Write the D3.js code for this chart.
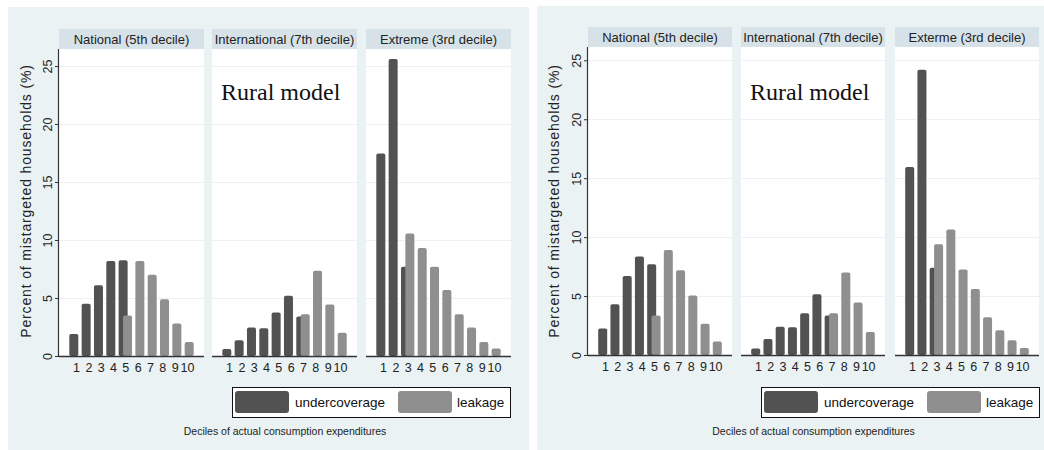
<!DOCTYPE html>
<html lang="en">
<head>
<meta charset="utf-8">
<title>Mistargeting by decile</title>
<style>
  body { margin: 0; background: #fff; }
  svg { display: block; font-family: "Liberation Sans", Arial, Helvetica, sans-serif; }
  .grid line { stroke: #eaf2f3; stroke-width: 1; }
  .strip-text { font-size: 13px; fill: #222; }
  .tick-lab { font-size: 12.5px; fill: #222; }
</style>
</head>
<body>
<svg width="1044" height="450"></svg>
<script src="https://cdn.jsdelivr.net/npm/d3@7"></script>
<script>

// ---- data ----
var deciles = [1, 2, 3, 4, 5, 6, 7, 8, 9, 10];
var yTicks = [0, 5, 10, 15, 20, 25];

var leftTitles  = ["National (5th decile)", "International (7th decile)", "Extreme (3rd decile)"];
var rightTitles = ["National (5th decile)", "International (7th decile)", "Exterme (3rd decile)"];

// left chart
var leftNationalUnder = [1.9, 4.5, 6.1, 8.2, 8.25, 0, 0, 0, 0, 0];
var leftNationalLeak  = [0, 0, 0, 0, 3.5, 8.2, 7.0, 4.9, 2.8, 1.2];
var leftInterUnder    = [0.6, 1.35, 2.45, 2.4, 3.75, 5.2, 3.4, 0, 0, 0];
var leftInterLeak     = [0, 0, 0, 0, 0, 0, 3.6, 7.35, 4.45, 2.0];
var leftExtremeUnder  = [17.45, 25.6, 7.7, 0, 0, 0, 0, 0, 0, 0];
var leftExtremeLeak   = [0, 0, 10.55, 9.3, 7.7, 5.7, 3.6, 2.45, 1.2, 0.65];

// right chart
var rightNationalUnder = [2.25, 4.3, 6.7, 8.35, 7.7, 0, 0, 0, 0, 0];
var rightNationalLeak  = [0, 0, 0, 0, 3.35, 8.9, 7.2, 5.05, 2.65, 1.15];
var rightInterUnder    = [0.55, 1.35, 2.4, 2.35, 3.55, 5.15, 3.35, 0, 0, 0];
var rightInterLeak     = [0, 0, 0, 0, 0, 0, 3.55, 7.0, 4.45, 1.95];
var rightExtremeUnder  = [15.95, 24.2, 7.4, 0, 0, 0, 0, 0, 0, 0];
var rightExtremeLeak   = [0, 0, 9.4, 10.65, 7.25, 5.6, 3.2, 2.1, 1.25, 0.6];

var darkColor = "#525252",
    lightColor = "#8f8f8f",
    panelBg = "#eaf2f3",
    stripBg = "#d7e2e8";

var svg = d3.select("svg");

function drawPanel(p) {
  var g = svg.append("g");

  g.append("rect")
      .attr("x", p.bgX).attr("y", p.bgY)
      .attr("width", p.bgW).attr("height", 450 - p.bgY)
      .attr("fill", panelBg);

  var yScale = d3.scaleLinear().domain([0, 25]).range([p.zeroY, p.topTickY]);

  var xScale = d3.scalePoint()
      .domain(deciles)
      .range([0, p.facetW])
      .padding(1.38);

  var barW = 9, off = 2.2;

  p.facets.forEach(function(f, i) {
    var fx = p.facetX[i];
    var fg = g.append("g").attr("transform", "translate(" + fx + ",0)");

    // white plot region
    fg.append("rect")
        .attr("x", 0).attr("y", p.plotTop)
        .attr("width", p.facetW).attr("height", p.zeroY - p.plotTop)
        .attr("fill", "#fff");

    // strip
    fg.append("rect")
        .attr("x", 0).attr("y", p.stripY)
        .attr("width", p.facetW).attr("height", p.plotTop - p.stripY)
        .attr("fill", stripBg);
    fg.append("text")
        .attr("class", "strip-text")
        .attr("x", p.facetW / 2)
        .attr("y", (p.stripY + p.plotTop) / 2)
        .attr("dy", "0.35em")
        .attr("text-anchor", "middle")
        .text(f.title);

    // grid lines
    fg.append("g").attr("class", "grid")
      .selectAll("line")
      .data(yTicks.slice(1))
      .enter().append("line")
        .attr("x1", 0).attr("x2", p.facetW)
        .attr("y1", function(d) { return Math.round(yScale(d)) + 0.5; })
        .attr("y2", function(d) { return Math.round(yScale(d)) + 0.5; });

    // undercoverage bars
    fg.append("g").selectAll("rect")
      .data(f.under.map(function(v, j) { return {d: deciles[j], v: v}; }).filter(function(d) { return d.v > 0; }))
      .enter().append("rect")
        .attr("x", function(d) { return xScale(d.d) - off - barW / 2; })
        .attr("y", function(d) { return yScale(d.v); })
        .attr("width", barW)
        .attr("height", function(d) { return p.zeroY - yScale(d.v); })
        .attr("rx", 1.8)
        .attr("fill", darkColor);

    // leakage bars
    fg.append("g").selectAll("rect")
      .data(f.leak.map(function(v, j) { return {d: deciles[j], v: v}; }).filter(function(d) { return d.v > 0; }))
      .enter().append("rect")
        .attr("x", function(d) { return xScale(d.d) + off - barW / 2; })
        .attr("y", function(d) { return yScale(d.v); })
        .attr("width", barW)
        .attr("height", function(d) { return p.zeroY - yScale(d.v); })
        .attr("rx", 1.8)
        .attr("fill", lightColor);

    // x axis
    var xAxis = d3.axisBottom(xScale).tickSize(0).tickPadding(7);
    var ax = fg.append("g")
        .attr("transform", "translate(0," + p.zeroY + ")")
        .call(xAxis);
    ax.select(".domain").remove();
    ax.selectAll("text").attr("class", "tick-lab").attr("font-size", null).attr("font-family", null);
    fg.append("line")
        .attr("x1", 0).attr("x2", p.facetW)
        .attr("y1", p.zeroY + 0.5).attr("y2", p.zeroY + 0.5)
        .attr("stroke", "#333").attr("stroke-width", 1.5);
  });

  // y axis on first facet
  var yAxis = d3.axisLeft(yScale).tickValues(yTicks).tickSize(4).tickPadding(0);
  var yg = g.append("g")
      .attr("transform", "translate(" + p.facetX[0] + ",0)")
      .call(yAxis);
  yg.select(".domain").remove();
  yg.selectAll(".tick line").attr("stroke", "#333");
  yg.selectAll(".tick text")
      .attr("class", "tick-lab")
      .attr("font-size", null).attr("font-family", null)
      .attr("x", null)
      .attr("text-anchor", "middle")
      .attr("transform", "translate(-11.5,0) rotate(-90)")
      .attr("dy", "0em")
      .attr("y", 4);
  g.append("line")
      .attr("x1", p.facetX[0] - 0.5).attr("x2", p.facetX[0] - 0.5)
      .attr("y1", p.plotTop).attr("y2", p.zeroY + 1)
      .attr("stroke", "#333").attr("stroke-width", 1.2);

  // y title
  g.append("text")
      .attr("transform", "translate(" + p.yTitleX + "," + 201 + ") rotate(-90)")
      .attr("text-anchor", "middle")
      .attr("dy", "0.35em")
      .style("font-size", "14px")
      .style("letter-spacing", "0.85px")
      .style("fill", "#222")
      .text("Percent of mistargeted households (%)");

  // annotation
  g.append("text")
      .attr("x", p.facetX[1] + 9)
      .attr("y", 100)
      .style("font-family", "'Liberation Serif', 'Times New Roman', serif")
      .style("font-size", "24px")
      .style("fill", "#111")
      .text("Rural model");

  // legend
  var lx = p.legendX, ly = 387;
  var lg = g.append("g").attr("transform", "translate(" + lx + "," + ly + ")");
  lg.append("rect")
      .attr("x", 0.5).attr("y", 0.5)
      .attr("width", 278).attr("height", 30)
      .attr("fill", "#fff").attr("stroke", "#111").attr("stroke-width", 1);
  var items = [
    {label: "undercoverage", color: darkColor, sx: 3, tx: 63},
    {label: "leakage", color: lightColor, sx: 166, tx: 225}
  ];
  items.forEach(function(it) {
    lg.append("rect")
        .attr("x", it.sx).attr("y", 4)
        .attr("width", 54).attr("height", 22)
        .attr("rx", 3)
        .attr("fill", it.color);
    lg.append("text")
        .attr("x", it.tx).attr("y", 15.5)
        .attr("dy", "0.35em")
        .style("font-size", "13.5px")
        .style("fill", "#111")
        .text(it.label);
  });

  // x title
  var mid = (p.facetX[0] + p.facetX[2] + p.facetW) / 2;
  g.append("text")
      .attr("x", mid).attr("y", 431)
      .attr("dy", "0.35em")
      .attr("text-anchor", "middle")
      .style("font-size", "10.5px")
      .style("fill", "#222")
      .text("Deciles of actual consumption expenditures");
}

drawPanel({
  bgX: 8, bgY: 7, bgW: 521,
  facetX: [59, 212, 366], facetW: 145,
  stripY: 29, plotTop: 49, zeroY: 356, topTickY: 66,
  yTitleX: 26, legendX: 232,
  facets: [
    {title: leftTitles[0], under: leftNationalUnder, leak: leftNationalLeak},
    {title: leftTitles[1], under: leftInterUnder, leak: leftInterLeak},
    {title: leftTitles[2], under: leftExtremeUnder, leak: leftExtremeLeak}
  ]
});

drawPanel({
  bgX: 537, bgY: 6, bgW: 507,
  facetX: [588, 741, 895], facetW: 144,
  stripY: 27, plotTop: 47, zeroY: 355, topTickY: 60.3,
  yTitleX: 554, legendX: 761,
  facets: [
    {title: rightTitles[0], under: rightNationalUnder, leak: rightNationalLeak},
    {title: rightTitles[1], under: rightInterUnder, leak: rightInterLeak},
    {title: rightTitles[2], under: rightExtremeUnder, leak: rightExtremeLeak}
  ]
});

</script>
</body>
</html>
